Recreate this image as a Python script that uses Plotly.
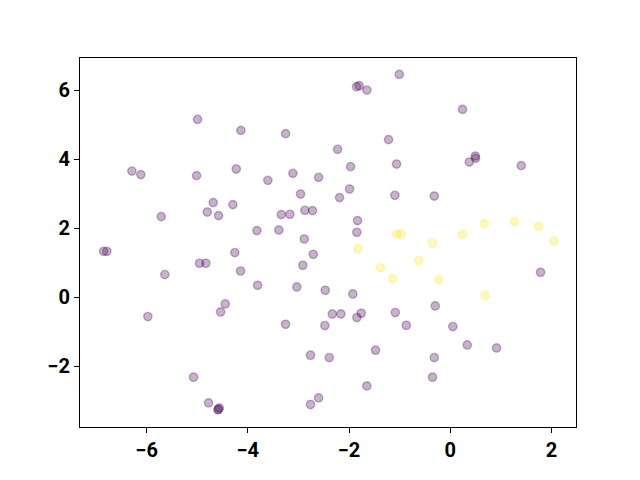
import plotly.graph_objects as go

# Class 0 (purple) points
x0 = [-4.993, -4.137, -6.29, -6.113, -5.012, -4.228, -4.683, -4.295, -4.801, -4.578,
      -5.71, -1.008, -1.852, -1.799, -1.648, -3.254, -1.22, -2.227, -1.97, -1.062,
      -3.604, -3.11, -2.602, -2.958, -1.99, -2.188, -1.095, -3.339, -3.169, -2.873,
      -2.721, -1.832, -3.821, -3.387, -2.885, -1.846, 0.242, 0.493, 0.499, 0.374,
      1.401, -0.317, -6.849, -6.784, -4.256, -4.953, -4.829, -4.143, -5.639, -4.446,
      -4.538, -5.974, -5.072, -4.775, -4.564, -4.592, -4.578, -2.707, -2.913, -3.807,
      -3.031, -2.47, -1.925, -2.332, -2.162, -1.759, -1.846, -1.087, -3.254, -2.478,
      -0.87, -1.477, -2.761, -2.391, -1.648, -2.602, -2.761, 1.783, -0.297, 0.05,
      0.335, 0.914, -0.317, -0.351]
y0 = [5.16, 4.84, 3.66, 3.557, 3.527, 3.719, 2.745, 2.687, 2.472, 2.368,
      2.339, 6.464, 6.107, 6.136, 6.009, 4.745, 4.571, 4.29, 3.788, 3.864,
      3.391, 3.594, 3.478, 2.994, 3.139, 2.89, 2.957, 2.397, 2.406, 2.522,
      2.513, 2.223, 1.933, 1.951, 1.69, 1.884, 5.449, 4.096, 4.029, 3.922,
      3.817, 2.936, 1.333, 1.333, 1.296, 0.986, 0.986, 0.762, 0.658, -0.194,
      -0.426, -0.559, -2.319, -3.064, -3.209, -3.267, -3.246, 1.246, 0.928, 0.348,
      0.299, 0.203, 0.096, -0.484, -0.484, -0.464, -0.588, -0.443, -0.783, -0.82,
      -0.812, -1.536, -1.681, -1.748, -2.571, -2.919, -3.11, 0.725, -0.252, -0.849,
      -1.383, -1.47, -1.748, -2.319]

# Class 1 (yellow) points
x1 = [-1.826, -1.062, -0.977, -0.351, 0.242, 0.671, 1.269, 1.743, 2.045, -1.378,
      -1.135, -0.621, -0.226, 0.69]
y1 = [1.412, 1.835, 1.835, 1.565, 1.826, 2.136, 2.194, 2.058, 1.632, 0.861,
      0.542, 1.064, 0.513, 0.049]

xticks = [-6, -4, -2, 0, 2]
yticks = [-2, 0, 2, 4, 6]

purple = "rgba(68,1,84,0.3)"
yellow = "rgba(253,231,37,0.3)"

fig = go.Figure()
fig.add_trace(go.Scatter(x=x0, y=y0, mode="markers",
                         marker=dict(size=8.33, color=purple,
                                     line=dict(color=purple, width=1.39)),
                         showlegend=False, hoverinfo="skip"))
fig.add_trace(go.Scatter(x=x1, y=y1, mode="markers",
                         marker=dict(size=8.33, color=yellow,
                                     line=dict(color=yellow, width=1.39)),
                         showlegend=False, hoverinfo="skip"))

axis_common = dict(showgrid=False, zeroline=False, showline=True, linecolor="black",
                   linewidth=1.1, mirror=True, ticks="outside", ticklen=5,
                   tickwidth=1.1, tickcolor="black",
                   tickfont=dict(family="Roboto", size=20, color="black", weight=700))

fig.update_xaxes(range=[-7.315, 2.483], tickvals=xticks,
                 ticktext=["\u2212" + str(-v) if v < 0 else str(v) for v in xticks],
                 **axis_common)
fig.update_yaxes(range=[-3.762, 6.939], tickvals=yticks,
                 ticktext=["\u2212" + str(-v) if v < 0 else str(v) for v in yticks],
                 **axis_common)

fig.update_layout(width=640, height=480, plot_bgcolor="white", paper_bgcolor="white",
                  margin=dict(l=80, r=64, t=57.6, b=52.8, autoexpand=False))

fig.write_html("out.html", config={"displayModeBar": False},
               post_script="document.body.style.margin='0';")
